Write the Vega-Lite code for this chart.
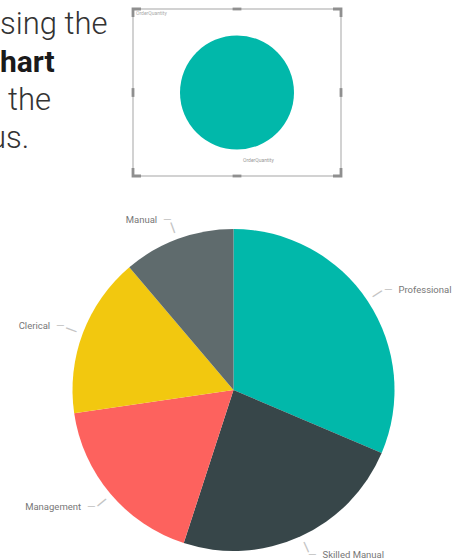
{
  "$schema": "https://vega.github.io/schema/vega-lite/v6.json",
  "background": "white",
  "padding": {"left": 0, "top": 6, "right": 0, "bottom": 0},
  "config": {"view": {"stroke": null}, "font": "Roboto"},
  "spacing": 35,
  "vconcat": [
    {
      "spacing": 10,
      "hconcat": [
        {
          "width": 120,
          "height": 164,
          "data": {"values": [
            {"line": 1, "text": "sing the"},
            {"line": 2, "text": "hart"},
            {"line": 3, "text": "the"},
            {"line": 4, "text": "us."}
          ]},
          "encoding": {
            "x": {"datum": 0, "type": "quantitative", "scale": {"domain": [0, 1]}, "axis": null},
            "y": {"field": "line", "type": "ordinal", "scale": {"type": "point", "padding": 0.658}, "axis": null},
            "text": {"field": "text"}
          },
          "layer": [
            {
              "transform": [{"filter": "datum.text === 'sing the'"}],
              "mark": {"type": "text", "align": "left", "baseline": "alphabetic", "fontSize": 31, "fontWeight": 300, "color": "#333333"}
            },
            {
              "transform": [{"filter": "datum.text === 'the'"}],
              "mark": {"type": "text", "align": "left", "baseline": "alphabetic", "dx": 8, "fontSize": 31, "fontWeight": 300, "color": "#333333"}
            },
            {
              "transform": [{"filter": "datum.text === 'us.'"}],
              "mark": {"type": "text", "align": "left", "baseline": "alphabetic", "dx": -11, "clip": true, "fontSize": 31, "fontWeight": 300, "color": "#333333"}
            },
            {
              "transform": [{"filter": "datum.text === 'hart'"}],
              "mark": {"type": "text", "align": "left", "baseline": "alphabetic", "fontSize": 30, "fontWeight": "bold", "color": "#1a1a1a"}
            }
          ]
        },
        {
          "width": 208,
          "height": 167,
          "view": {"stroke": "#c4c4c4", "strokeWidth": 1.5},
          "layer": [
            {
              "data": {"values": [{"field": "OrderQuantity", "value": 1}]},
              "encoding": {"theta": {"field": "value", "type": "quantitative", "stack": true}},
              "layer": [
                {"mark": {"type": "arc", "outerRadius": 57, "color": "#01B8AA"}},
                {
                  "mark": {"type": "text", "radius": 67, "align": "left", "dx": 6, "baseline": "middle", "fontSize": 5, "color": "#999999"},
                  "encoding": {"text": {"field": "field"}}
                }
              ]
            },
            {
              "data": {"values": [
                {"h": "l", "v": "t", "pos": "tl"},
                {"h": "c", "v": "t", "pos": "tc"},
                {"h": "r", "v": "t", "pos": "tr"},
                {"h": "l", "v": "m", "pos": "ml"},
                {"h": "r", "v": "m", "pos": "mr"},
                {"h": "l", "v": "b", "pos": "bl"},
                {"h": "c", "v": "b", "pos": "bc"},
                {"h": "r", "v": "b", "pos": "br"}
              ]},
              "mark": {"type": "point", "filled": true, "size": 64, "color": "#8f8f8f", "opacity": 1, "strokeWidth": 0},
              "encoding": {
                "x": {"field": "h", "type": "nominal", "scale": {"type": "point", "domain": ["l", "c", "r"], "padding": 0}, "axis": null},
                "y": {"field": "v", "type": "nominal", "scale": {"type": "point", "domain": ["t", "m", "b"], "padding": 0}, "axis": null},
                "shape": {
                  "field": "pos",
                  "type": "nominal",
                  "scale": {
                    "domain": ["tl", "tc", "tr", "ml", "mr", "bl", "bc", "br"],
                    "range": [
                      "M-0.35,-0.35H2V0.35H0.35V2H-0.35Z",
                      "M-1.1,-0.35H1.1V0.35H-1.1Z",
                      "M0.35,-0.35H-2V0.35H-0.35V2H0.35Z",
                      "M-0.35,-1.1H0.35V1.1H-0.35Z",
                      "M-0.35,-1.1H0.35V1.1H-0.35Z",
                      "M-0.35,0.35H2V-0.35H0.35V-2H-0.35Z",
                      "M-1.1,-0.35H1.1V0.35H-1.1Z",
                      "M0.35,0.35H-2V-0.35H-0.35V-2H0.35Z"
                    ]
                  },
                  "legend": null
                }
              }
            },
            {
              "data": {"values": [{"name": "OrderQuantity"}]},
              "mark": {"type": "text", "align": "left", "baseline": "top", "dx": 3, "dy": 2, "fontSize": 5, "color": "#aaaaaa"},
              "encoding": {
                "x": {"datum": "l", "type": "nominal"},
                "y": {"datum": "t", "type": "nominal"},
                "text": {"field": "name"}
              }
            }
          ]
        }
      ]
    },
    {
      "width": 467,
      "height": 340,
      "data": {"values": [
        {"cat": "Professional", "value": 31.4, "idx": 1},
        {"cat": "Skilled Manual", "value": 23.6, "idx": 2},
        {"cat": "Management", "value": 17.7, "idx": 3},
        {"cat": "Clerical", "value": 16.1, "idx": 4},
        {"cat": "Manual", "value": 11.2, "idx": 5}
      ]},
      "encoding": {
        "theta": {"field": "value", "type": "quantitative", "stack": true},
        "order": {"field": "idx", "type": "quantitative"}
      },
      "layer": [
        {
          "mark": {"type": "arc", "outerRadius": 161},
          "encoding": {
            "color": {
              "field": "cat",
              "type": "nominal",
              "scale": {
                "domain": ["Professional", "Skilled Manual", "Management", "Clerical", "Manual"],
                "range": ["#01B8AA", "#374649", "#FD625E", "#F2C80F", "#5F6B6D"]
              },
              "legend": null
            }
          }
        },
        {
          "mark": {
            "type": "text",
            "radius": 181,
            "fontSize": 9.5,
            "color": "#777777",
            "baseline": "middle",
            "align": {"expr": "datum.value_start + datum.value_end < 100 ? 'left' : 'right'"},
            "dx": {"expr": "datum.value_start + datum.value_end < 100 ? 14 : -14"}
          },
          "encoding": {"text": {"field": "cat"}}
        },
        {
          "mark": {
            "type": "text",
            "radius": 181,
            "fontSize": 11,
            "color": "#c4c4c4",
            "baseline": "middle",
            "align": {"expr": "datum.value_start + datum.value_end < 100 ? 'left' : 'right'"},
            "dx": {"expr": "datum.value_start + datum.value_end < 100 ? -0.5 : 0.5"}
          },
          "encoding": {"text": {"value": "—"}}
        },
        {
          "mark": {
            "type": "text",
            "radius": 173,
            "fontSize": 17,
            "color": "#c4c4c4",
            "baseline": "middle",
            "align": "center",
            "angle": {"expr": "(datum.value_start + datum.value_end) * 1.8 - 90"}
          },
          "encoding": {"text": {"value": "—"}}
        }
      ]
    }
  ]
}
